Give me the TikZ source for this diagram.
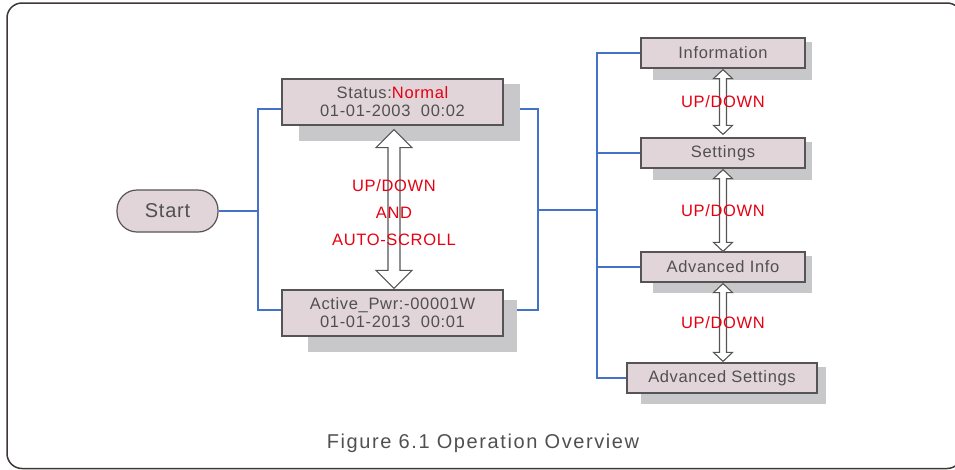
\documentclass[tikz,border=0pt]{standalone}
\usepackage{fontspec}
\setmainfont{Liberation Sans}
\newfontfamily\boxfont[LetterSpace=4]{Liberation Sans}
\newfontfamily\capfont[LetterSpace=8]{Liberation Sans}
\usetikzlibrary{calc,backgrounds}
\definecolor{boxfill}{RGB}{226,213,218}
\definecolor{shadowgray}{RGB}{200,200,202}
\definecolor{txtgray}{RGB}{80,80,80}
\definecolor{edgegray}{RGB}{85,85,85}
\definecolor{alert}{RGB}{230,0,18}
\definecolor{wire}{RGB}{68,114,200}
\definecolor{framegray}{RGB}{60,55,52}
\newcommand{\updown}[5]{%
  \draw[hollow] let \p1=#1, \p2=#2 in
    (\x1,\y1) -- (\x1+#3,\y1-#5) -- (\x1+#4,\y1-#5) -- (\x1+#4,\y2+#5)
    -- (\x1+#3,\y2+#5) -- (\x1,\y2) -- (\x1-#3,\y2+#5) -- (\x1-#4,\y2+#5)
    -- (\x1-#4,\y1-#5) -- (\x1-#3,\y1-#5) -- cycle;
}
\begin{document}
\begin{tikzpicture}[x=1pt,y=-1pt,
    menu/.style={draw=edgegray,line width=1.2pt,fill=boxfill,text=txtgray,
      inner sep=0pt,align=center,font=\boxfont\fontsize{16.5}{18}\selectfont},
    keys/.style={text=alert,inner sep=0pt,font=\boxfont\fontsize{16.5}{18}\selectfont},
    link/.style={draw=wire,line width=1.2pt},
    shade/.style={fill=shadowgray},
    hollow/.style={draw=edgegray,fill=white,line width=1.1pt,line join=miter}]
  \useasboundingbox (0,0) rectangle (955,469);
  \node[menu,minimum width=101,minimum height=42,rounded corners=20pt,
    font=\boxfont\fontsize{20}{24}\selectfont] (start) at (167.5,211) {Start};
  \node[menu,minimum width=221,minimum height=46] (st) at (392.5,102)
    {Status:\textcolor{alert}{Normal}\\01-01-2003\ \ 00:02};
  \node[menu,minimum width=221,minimum height=46] (ap) at (392.5,313)
    {Active\_Pwr:-00001W\\01-01-2013\ \ 00:01};
  \node[menu,minimum width=164,minimum height=30] (info) at (723,53) {Information};
  \node[menu,minimum width=164,minimum height=30] (set) at (723,153) {Settings};
  \node[menu,minimum width=164,minimum height=30] (ainfo) at (723,267) {Advanced Info};
  \node[menu,minimum width=190,minimum height=30] (aset) at (722,378) {Advanced Settings};
  \coordinate (lsplit) at (258,211);
  \coordinate (rsplit) at (538,210);
  \coordinate (tree) at (597,210);
  \begin{scope}[on background layer]
    \draw[framegray,line width=1.5pt,rounded corners=15pt] (7,3) rectangle (962,468.5);
    \draw[link] (start) -- (lsplit);
    \draw[link] ($(st.west)+(0,7)$) -| (lsplit) |- ($(ap.west)+(0,-3)$);
    \draw[link] ($(st.east)+(0,7)$) -| (rsplit) |- ($(ap.east)+(0,-3)$);
    \draw[link] (rsplit) -- (tree);
    \draw[link] (info.west) -| (tree) |- (aset.west);
    \draw[link] (tree) |- (set.west);
    \draw[link] (tree) |- (ainfo.west);
    \fill[shade] ($(st.north west)+(18,6)$) rectangle ($(st.south east)+(16,15)$);
    \fill[shade] ($(ap.north west)+(27,11)$) rectangle ($(ap.south east)+(13,15)$);
    \fill[shade] ($(info.north west)+(13,5)$) rectangle ($(info.south east)+(6,11)$);
    \fill[shade] ($(set.north west)+(13,5)$) rectangle ($(set.south east)+(6,11)$);
    \fill[shade] ($(ainfo.north west)+(13,5)$) rectangle ($(ainfo.south east)+(6,10)$);
    \fill[shade] ($(aset.north west)+(15,5)$) rectangle ($(aset.south east)+(8,10)$);
  \end{scope}
  \updown{($(st.south)+(1.5,4)$)}{($(ap.north)+(1.5,-1)$)}{18pt}{6pt}{18pt}
  \updown{($(info.south)+(0,1)$)}{($(set.north)+(0,-3)$)}{9.5pt}{3.5pt}{9pt}
  \updown{($(set.south)+(0,1)$)}{($(ainfo.north)+(0,0)$)}{9.5pt}{3.5pt}{9pt}
  \updown{($(ainfo.south)+(0,1)$)}{($(aset.north)+(1,-1)$)}{9.5pt}{3.5pt}{9pt}
  \node[keys] (k1) at (394,186) {UP/DOWN};
  \node[keys] (k2) at (394,213) {AND};
  \node[keys] (k3) at (394,240) {AUTO-SCROLL};
  \node[keys] (k4) at (723,102) {UP/DOWN};
  \node[keys] (k5) at (723,211) {UP/DOWN};
  \node[keys] (k6) at (723,323) {UP/DOWN};
  \node[text=txtgray,font=\capfont\fontsize{20}{24}\selectfont] (cap) at (483,443)
    {Figure 6.1 Operation Overview};
\end{tikzpicture}
\end{document}
